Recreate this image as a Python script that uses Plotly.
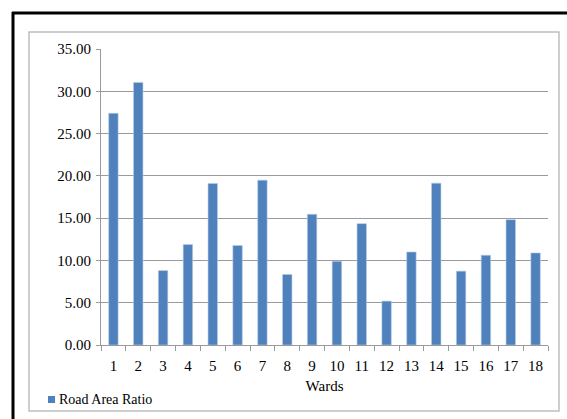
import plotly.graph_objects as go

wards = [str(i) for i in range(1, 19)]
road_area_ratio = [27.4, 31.05, 8.8, 11.87, 19.1, 11.76, 19.49, 8.34, 15.45,
                   9.9, 14.35, 5.19, 11.0, 19.14, 8.73, 10.61, 14.82, 10.89]
y_ticks = [0, 5, 10, 15, 20, 25, 30, 35]
series_name = "Road Area Ratio"
x_title = "Wards"

W, H = 567, 419
L, R, T, B = 101, 548, 49, 345  # plot area in pixels


def px(x):
    return (x - L) / (R - L)


def py(y):
    return (B - y) / (B - T)


FONT = "Liberation Serif"
GRID = "#9a9a9a"
BAR = "#4f81bd"

fig = go.Figure()
fig.add_trace(go.Bar(
    x=wards, y=road_area_ratio, name=series_name,
    marker=dict(color=BAR, line=dict(color="#b8cce4", width=0.6)),
    showlegend=False,
))

fig.update_layout(
    width=W, height=H,
    margin=dict(l=L, r=W - R, t=T, b=H - B, pad=0, autoexpand=False),
    paper_bgcolor="white", plot_bgcolor="white",
    font=dict(family=FONT, size=14, color="black"),
    bargap=0.62,
    showlegend=False,
    xaxis=dict(type="category", showline=True, linecolor=GRID, linewidth=1,
               ticks="outside", tickson="boundaries", ticklen=5, tickcolor=GRID,
               tickfont=dict(family=FONT, size=15), ticklabelstandoff=7,
               title=dict(text=x_title, font=dict(family=FONT, size=15), standoff=7),
               showgrid=False, automargin=False),
    yaxis=dict(range=[0, 35], tickvals=y_ticks, tickformat=".2f",
               showline=True, linecolor=GRID, linewidth=1,
               ticks="outside", ticklen=4, tickcolor=GRID,
               tickfont=dict(family=FONT, size=15), ticklabelstandoff=2,
               showgrid=True, gridcolor=GRID, gridwidth=1, zeroline=False,
               automargin=False),
    shapes=[
        dict(type="rect", xref="paper", yref="paper",
             x0=px(29), x1=px(559), y0=py(411), y1=py(32),
             line=dict(color="#bfbfbf", width=1.5), layer="below"),
        dict(type="line", xref="paper", yref="paper",
             x0=px(13), x1=px(13), y0=py(12), y1=py(430),
             line=dict(color="black", width=3)),
        dict(type="line", xref="paper", yref="paper",
             x0=px(12), x1=px(580), y0=py(13), y1=py(13),
             line=dict(color="black", width=3)),
        # legend key
        dict(type="rect", xref="paper", yref="paper",
             x0=px(48), x1=px(55), y0=py(403), y1=py(396),
             line=dict(width=0), fillcolor=BAR),
    ],
    annotations=[
        dict(text=series_name, xref="paper", yref="paper",
             x=px(57), y=py(399.5), xanchor="left", yanchor="middle",
             showarrow=False, font=dict(family=FONT, size=14)),
    ],
)

fig.write_html("out.html", config={"displayModeBar": False},
               post_script="document.body.style.margin='0';")
